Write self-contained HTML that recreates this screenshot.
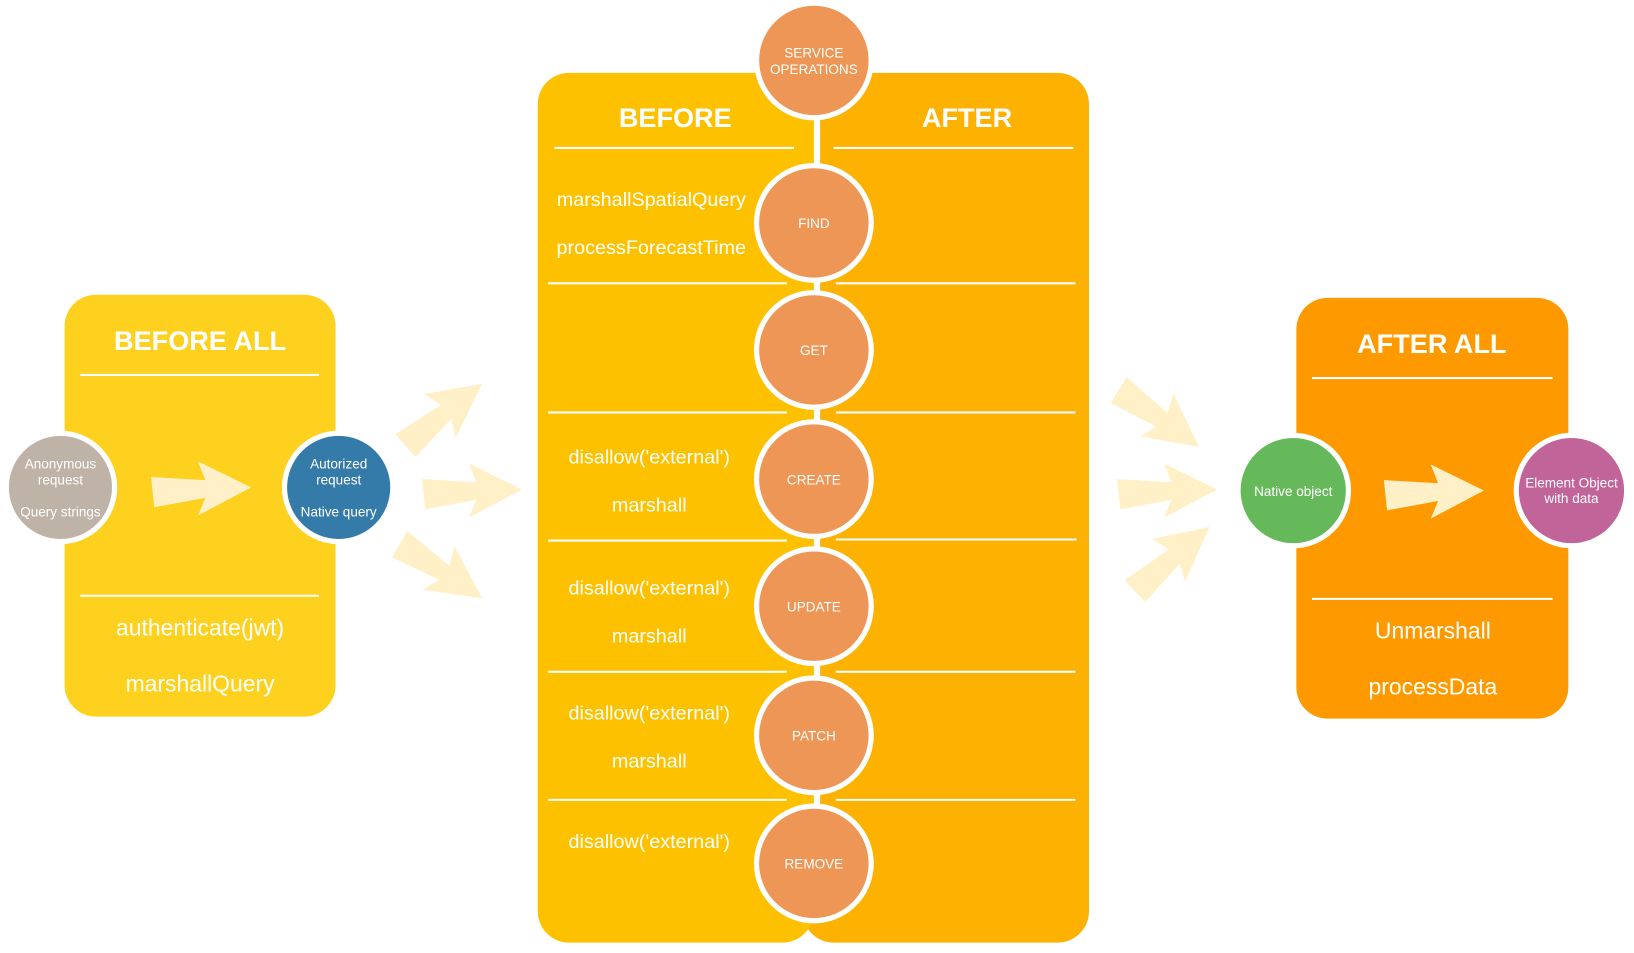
<!DOCTYPE html>
<html><head><meta charset="utf-8"><style>
html,body{margin:0;padding:0;background:#fff}
svg{display:block}
text{font-family:"Liberation Sans",Arial,sans-serif;fill:#fff;text-anchor:middle}
</style></head><body>
<svg width="1634" height="953" viewBox="0 0 1568 915" preserveAspectRatio="none" xmlns="http://www.w3.org/2000/svg">
<defs>
<path id="ar" d="M0,-10 L52,-7 L45,-25 L96,0 L45,27 L52,10 L3,19 Z" fill="#FFF0C8"/>
</defs>
<!-- BEFORE ALL -->
<rect x="62" y="283" width="260" height="405" rx="30" fill="#FDD11E"/>
<text x="192" y="336" font-size="26" font-weight="bold">BEFORE ALL</text>
<line x1="77" y1="360" x2="306" y2="360" stroke="#fff" stroke-width="2"/>
<line x1="77" y1="572" x2="306" y2="572" stroke="#fff" stroke-width="2"/>
<text x="192" y="610" font-size="22">authenticate(jwt)</text>
<text x="192" y="664" font-size="22">marshallQuery</text>
<use href="#ar" transform="translate(145,468)"/>
<circle cx="58" cy="468" r="52" fill="#BFB3A8" stroke="#fff" stroke-width="5"/>
<text x="58" y="450" font-size="13">Anonymous</text>
<text x="58" y="465" font-size="13">request</text>
<text x="58" y="496" font-size="13">Query strings</text>
<circle cx="325" cy="468" r="52" fill="#357BAA" stroke="#fff" stroke-width="5"/>
<text x="325" y="450" font-size="13">Autorized</text>
<text x="325" y="465" font-size="13">request</text>
<text x="325" y="496" font-size="13">Native query</text>
<!-- arrows between -->
<use href="#ar" transform="translate(385,425) rotate(-36)"/>
<use href="#ar" transform="translate(405,470)"/>
<use href="#ar" transform="translate(385,518) rotate(36)"/>
<use href="#ar" transform="translate(1075,370) rotate(38)"/>
<use href="#ar" transform="translate(1072,470)"/>
<use href="#ar" transform="translate(1085,565) rotate(-38)"/>
<!-- middle -->
<rect x="770" y="70" width="275" height="835" rx="30" fill="#FDB100"/>
<rect x="516" y="70" width="265" height="835" rx="30" fill="#FEC100"/>
<rect x="781" y="100" width="6" height="780" fill="#fff"/>
<text x="648" y="122" font-size="26" font-weight="bold">BEFORE</text>
<text x="928" y="122" font-size="26" font-weight="bold">AFTER</text>
<g stroke="#fff" stroke-width="2">
<line x1="532" y1="142" x2="762" y2="142"/><line x1="800" y1="142" x2="1030" y2="142"/>
<line x1="526" y1="272" x2="755" y2="272"/><line x1="802" y1="272" x2="1032" y2="272"/>
<line x1="526" y1="396" x2="755" y2="396"/><line x1="802" y1="396" x2="1032" y2="396"/>
<line x1="526" y1="519" x2="755" y2="519"/><line x1="802" y1="518" x2="1033" y2="518"/>
<line x1="526" y1="645" x2="755" y2="645"/><line x1="802" y1="645" x2="1032" y2="645"/>
<line x1="526" y1="768" x2="755" y2="768"/><line x1="802" y1="768" x2="1032" y2="768"/>
</g>
<g font-size="19">
<text x="625" y="198">marshallSpatialQuery</text>
<text x="625" y="244">processForecastTime</text>
<text x="623" y="445">disallow('external')</text>
<text x="623" y="491">marshall</text>
<text x="623" y="571">disallow('external')</text>
<text x="623" y="617">marshall</text>
<text x="623" y="691">disallow('external')</text>
<text x="623" y="737">marshall</text>
<text x="623" y="814">disallow('external')</text>
</g>
<g fill="#EE9655" stroke="#fff" stroke-width="5">
<circle cx="781" cy="58" r="55"/>
<circle cx="781" cy="214" r="55"/>
<circle cx="781" cy="336" r="55"/>
<circle cx="781" cy="460" r="55"/>
<circle cx="781" cy="582" r="55"/>
<circle cx="781" cy="706" r="55"/>
<circle cx="781" cy="829" r="55"/>
</g>
<g font-size="13">
<text x="781" y="55">SERVICE</text>
<text x="781" y="71">OPERATIONS</text>
<text x="781" y="219">FIND</text>
<text x="781" y="341">GET</text>
<text x="781" y="465">CREATE</text>
<text x="781" y="587">UPDATE</text>
<text x="781" y="711">PATCH</text>
<text x="781" y="834">REMOVE</text>
</g>
<!-- AFTER ALL -->
<rect x="1244" y="286" width="261" height="404" rx="30" fill="#FE9A00"/>
<text x="1374" y="339" font-size="26" font-weight="bold">AFTER ALL</text>
<line x1="1259" y1="363" x2="1490" y2="363" stroke="#fff" stroke-width="2"/>
<line x1="1259" y1="575" x2="1490" y2="575" stroke="#fff" stroke-width="2"/>
<text x="1375" y="613" font-size="22">Unmarshall</text>
<text x="1375" y="667" font-size="22">processData</text>
<use href="#ar" transform="translate(1328,471)"/>
<circle cx="1241" cy="471" r="53" fill="#66B95A" stroke="#fff" stroke-width="5"/>
<text x="1241" y="476" font-size="13">Native object</text>
<circle cx="1508" cy="471" r="53" fill="#C0649A" stroke="#fff" stroke-width="5"/>
<text x="1508" y="468" font-size="13">Element Object</text>
<text x="1508" y="483" font-size="13">with data</text>
</svg>
</body></html>
